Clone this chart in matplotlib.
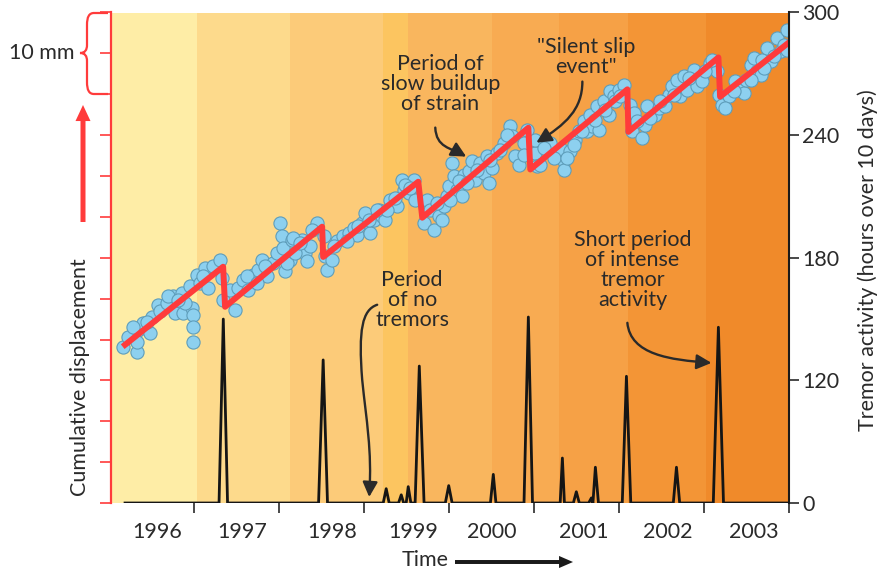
import numpy as np
import matplotlib.pyplot as plt
import matplotlib.transforms as mtransforms
from matplotlib.patches import FancyArrowPatch, PathPatch
from matplotlib.path import Path

plt.rcParams['font.family'] = ['Lato', 'DejaVu Sans']

# GPS cumulative displacement (year, mm)
gps_t = [1996.175, 1996.234, 1996.332, 1996.351, 1996.332, 1996.41, 1996.489, 1996.509, 1996.586, 1996.606,
         1996.685, 1996.763, 1996.783, 1996.862, 1996.881, 1996.959, 1996.979, 1996.998, 1996.998, 1996.998,
         1996.9, 1997.038, 1997.077, 1997.136, 1997.175, 1997.234, 1997.312, 1997.332, 1997.351, 1997.43,
         1997.489, 1997.528, 1997.586, 1997.645, 1997.704, 1997.763, 1997.803, 1997.862, 1997.939, 1997.979,
         1998.018, 1998.038, 1998.057, 1998.077, 1998.136, 1998.156, 1998.273, 1998.312, 1998.332, 1998.371,
         1998.45, 1998.528, 1998.548, 1998.567,
         1996.292, 1996.45, 1996.704, 1996.822, 1997.116, 1997.626, 1997.744, 1997.842, 1998.097, 1998.195,
         1998.175, 1998.254, 1998.391, 1998.626, 1998.685, 1998.763, 1998.822, 1998.881, 1998.92, 1998.979,
         1999.018, 1999.077, 1999.116, 1999.175, 1999.214, 1999.254, 1999.312, 1999.391, 1999.45, 1999.469,
         1999.528, 1999.586, 1999.606, 1999.704, 1999.744, 1999.783, 1999.822, 1999.881, 1999.939, 1999.979,
         1999.998, 2000.038, 2000.057, 2000.097, 2000.156, 2000.175, 2000.234, 2000.273, 2000.312, 2000.371,
         2000.41, 2000.45, 2000.469, 2000.509, 2000.567, 2000.645, 2000.724, 2000.744, 2000.783, 2000.822,
         2000.881, 2000.92, 2001.018, 2001.038,
         1998.646, 1998.803, 1998.939, 1999.057, 1999.156, 1999.273, 1999.371, 1999.489, 1999.548,
         1999.861, 1999.92, 2000.018, 2000.116, 2000.214, 2000.332, 2000.489, 2000.606, 2000.685,
         2000.881, 2001.018, 2001.077, 2001.195, 2001.273, 2001.332, 2001.351, 2001.351, 2001.43, 2001.489,
         2001.528, 2001.586, 2001.626, 2001.665, 2001.685, 2001.744, 2001.763, 2001.822, 2001.881, 2001.901,
         2001.939, 2001.998, 2002.057, 2002.136, 2002.175, 2002.156, 2002.273, 2002.312, 2002.332, 2002.43,
         2002.469, 2002.548, 2002.586, 2002.626, 2002.685, 2002.724, 2002.763, 2002.803, 2002.881, 2002.92,
         2002.979, 2003.077, 2003.156, 2003.175, 2003.214, 2003.292, 2003.371, 2003.41, 2003.469, 2003.489,
         2003.548, 2003.586, 2003.626, 2003.665, 2003.685, 2003.744, 2003.783, 2003.862, 2003.901, 2003.939,
         2003.979, 2003.979,
         2001.116, 2001.234, 2001.391, 2001.469, 2001.567, 2001.724, 2001.842, 2001.959, 2002.018,
         2002.214, 2002.371, 2002.489, 2002.645, 2002.822, 2003.018, 2003.097,
         2003.253, 2003.351, 2003.548, 2003.704, 2003.822]
gps_mm = [19.14, 20.36, 18.53, 21.18, 19.75, 22.0, 20.78, 22.81, 24.25, 23.43,
          24.45, 25.26, 23.23, 25.68, 23.23, 26.49, 23.84, 23.02, 21.59, 19.75,
          24.45, 27.92, 26.9, 28.74, 26.29, 28.94, 29.76, 27.51, 24.86, 26.08,
          23.63, 26.29, 27.31, 26.08, 27.92, 28.53, 29.76, 27.71, 29.35, 30.58,
          34.25, 32.61, 31.19, 28.32, 29.76, 32.2, 32.2, 30.58, 29.55, 31.38,
          34.25, 32.61, 30.16, 28.53,
          21.59, 22.2, 25.26, 24.86, 27.71, 27.71, 26.9, 28.94, 29.35, 30.58,
          32.41, 31.8, 33.43, 29.76, 32.0, 32.61, 33.02, 33.64, 32.82, 34.25,
          35.47, 33.02, 34.65, 35.88, 35.06, 34.65, 37.1, 36.28, 39.55, 38.33,
          37.92, 39.55, 37.1, 34.25, 37.1, 35.88, 33.43, 35.06, 36.28, 37.51,
          38.73, 41.6, 39.96, 38.33, 37.51, 40.16, 40.57, 41.79, 39.55, 41.6,
          40.37, 42.41, 39.15, 40.98, 42.82, 44.05, 46.08, 44.86, 42.41, 41.39,
          44.05, 45.67, 42.82, 41.18,
          31.39, 32.0, 33.83, 34.65, 35.88, 35.88, 37.31, 38.94, 38.53,
          36.7, 34.65, 37.1, 39.34, 39.15, 40.78, 42.0, 43.23, 45.06,
          42.61, 44.45, 41.39, 44.05, 42.61, 43.23, 41.79, 40.78, 43.02, 44.45,
          45.47, 46.69, 45.47, 47.51, 46.08, 48.53, 45.67, 49.14, 47.51, 50.36,
          49.75, 50.57, 51.18, 48.74, 47.72, 45.47, 44.66, 46.29, 48.53, 47.51,
          48.33, 48.53, 49.96, 50.98, 51.8, 49.75, 52.2, 50.57, 53.02, 50.98,
          51.59, 53.84, 52.81, 49.96, 48.74, 49.75, 51.59, 50.57, 50.17, 51.8,
          53.63, 54.45, 52.81, 52.41, 54.25, 55.68, 54.04, 56.9, 55.27, 56.08,
          57.92, 55.47,
          43.43, 42.21, 42.21, 43.84, 45.47, 46.9, 48.12, 49.14, 49.75,
          46.69, 47.1, 49.14, 49.96, 52.0, 52.81, 54.25,
          48.33, 50.37, 51.8, 53.23, 54.65]

# sawtooth model line (year, mm)
fit_t = [1996.195, 1997.348, 1997.371, 1998.512, 1998.524, 1999.642, 1999.689, 2000.936, 2000.959,
         2002.10, 2002.112, 2003.17, 2003.19, 2003.995]
fit_mm = [19.35, 28.9, 24.0, 33.8, 30.1, 39.3, 34.9, 45.9, 40.8, 50.6, 45.4, 54.5, 49.7, 56.3]

# tremor activity (year, hours over 10 days)
tremor_t = [1996.195, 1997.30, 1997.35, 1997.40, 1998.47, 1998.524, 1998.575, 1999.23, 1999.265, 1999.30,
            1999.41, 1999.442, 1999.47, 1999.50, 1999.524, 1999.555, 1999.605, 1999.654, 1999.71, 1999.96,
            2000.0, 2000.04, 2000.49, 2000.524, 2000.555, 2000.885, 2000.936, 2000.985, 2001.31, 2001.336,
            2001.36, 2001.465, 2001.50, 2001.535, 2001.645, 2001.677, 2001.695, 2001.724, 2001.76, 2002.04,
            2002.089, 2002.14, 2002.64, 2002.677, 2002.715, 2003.11, 2003.17, 2003.23, 2003.995]
tremor_h = [0, 0, 150, 0, 0, 130, 0, 0, 14, 0,
            0, 8, 0, 0, 16, 0, 0, 127, 0, 0,
            17, 0, 0, 28, 0, 0, 151, 0, 0, 44,
            0, 0, 11, 0, 0, 5, 0, 35, 0, 0,
            122, 0, 0, 35, 0, 0, 146, 0, 0]

year_ticks = [1997, 1998, 1999, 2000, 2001, 2002, 2003, 2004]
year_labels = ['1996', '1997', '1998', '1999', '2000', '2001', '2002', '2003']
year_label_pos = [1996.57, 1997.57, 1998.63, 1999.58, 2000.51, 2001.59, 2002.58, 2003.59]
tremor_ticks = [0, 120, 180, 240, 300]

band_edges = [1996.0, 1997.04, 1998.136, 1999.23, 1999.524, 2000.51, 2001.30, 2002.11, 2003.02, 2004.0]
band_colors = ['#FEEDA6', '#FDDA8C', '#FCCB79', '#FCC560', '#F9B65E', '#F8AB52', '#F6A146', '#F39536', '#F08A2A']

RED = '#FF3B3B'
INK = '#2a2a2a'
FS = 15.5


def fwd(v):
    v = np.asarray(v, dtype=float)
    return np.where(v <= 120, v / 2, v - 60)


def inv(v):
    v = np.asarray(v, dtype=float)
    return np.where(v <= 60, v * 2, v + 60)


fig = plt.figure(figsize=(8.82, 5.71), dpi=100)
# pixel transform for decorations outside the axes (origin top-left)
px = mtransforms.Affine2D().scale(1 / 882, -1 / 571).translate(0, 1) + fig.transFigure

ax = fig.add_axes([111 / 882, 1 - 503 / 571, 678 / 882, 490.5 / 571])
for i in range(len(band_colors)):
    ax.axvspan(band_edges[i], band_edges[i + 1], color=band_colors[i], lw=0, zorder=0)

ax.scatter(gps_t, gps_mm, s=90, c='#8DD0EF', edgecolors='#5E9DBA', linewidths=0.8, zorder=2)
ax.plot(fit_t, fit_mm, color=RED, lw=4.3, zorder=3)

ax.set_xlim(1996.03, 2004.0)
ax.set_ylim(0, 60)
ax.set_yticks(np.arange(0, 61, 5))
ax.tick_params(axis='y', colors=RED, length=8, width=1.2, labelleft=False)
ax.spines['left'].set_color(RED)
ax.spines['left'].set_linewidth(1.6)
for s in ['top', 'right', 'bottom']:
    ax.spines[s].set_visible(False)

ax.set_xticks(year_ticks, labels=[''] * len(year_ticks))
ax.set_xticks(year_label_pos, labels=year_labels, minor=True)
ax.tick_params(axis='x', which='major', length=7.5, width=1.2, color=INK)
ax.tick_params(axis='x', which='minor', length=0, pad=14, labelsize=FS, labelcolor=INK)

ax2 = ax.twinx()
ax2.set_yscale('function', functions=(fwd, inv))
ax2.set_ylim(0, 300)
ax2.set_yticks(tremor_ticks, labels=[str(v) for v in tremor_ticks])
ax2.plot(tremor_t, tremor_h, color='#151515', lw=2.0, zorder=3)
ax2.tick_params(axis='y', length=7.5, width=1.2, pad=2, labelsize=FS, color=INK, labelcolor=INK)
for s in ['top', 'left', 'bottom']:
    ax2.spines[s].set_visible(False)
ax2.spines['right'].set_linewidth(1.5)
ax2.spines['right'].set_color('#1a1a1a')

# annotations inside the plot
txt = dict(ha='center', va='center', fontsize=FS, color=INK, linespacing=1.0, zorder=5)
ax.text(1999.9, 51.2, 'Period of\nslow buildup\nof strain', **txt)
ax.text(2001.618, 54.6, '"Silent slip\nevent"', **txt)
ax.text(1999.571, 24.86, 'Period\nof no\ntremors', **txt)
ax.text(2002.16, 28.5, 'Short period\nof intense\ntremor\nactivity', **txt)

C3 = Path.CURVE4
arrow_paths = [
    Path([(1999.842, 45.92), (1999.854, 43.47), (2000.018, 43.47), (2000.206, 42.37)], [Path.MOVETO, C3, C3, C3]),
    Path([(2001.571, 51.55), (2001.571, 48.12), (2001.371, 46.29), (2001.03, 44.08)], [Path.MOVETO, C3, C3, C3]),
    Path([(1999.159, 24.25), (1998.983, 23.63), (1998.936, 21.18), (1998.983, 15.06),
          (1999.03, 10.16), (1999.1, 6.49), (1999.065, 0.73)], [Path.MOVETO, C3, C3, C3, C3, C3, C3]),
    Path([(2002.10, 22.04), (2002.136, 18.12), (2002.606, 17.51), (2003.089, 17.14)], [Path.MOVETO, C3, C3, C3]),
]
for p in arrow_paths:
    ax.add_patch(FancyArrowPatch(path=p, arrowstyle='-|>,head_length=0.6,head_width=0.3',
                                 mutation_scale=15, lw=1.7, color=INK, zorder=5))

# left side decorations: brace, 10 mm, red arrow
brace = Path([(108, 13), (94, 13), (89, 13), (87, 17), (87, 25), (87, 45), (87, 50), (85, 53), (80, 53),
              (85, 53), (87, 56), (87, 61), (87, 82), (87, 90), (89, 94), (94, 94), (108, 94)],
             [Path.MOVETO, Path.LINETO, C3, C3, C3, Path.LINETO, C3, C3, C3, C3, C3, C3,
              Path.LINETO, C3, C3, C3, Path.LINETO])
fig.add_artist(PathPatch(brace, transform=px, fill=False, edgecolor=RED, lw=1.6))
fig.text(42 / 882, 1 - 53 / 571, '10 mm', ha='center', va='center', fontsize=FS, color=INK)
fig.add_artist(FancyArrowPatch((83, 222), (83, 105), transform=px,
                               arrowstyle='simple,head_length=0.77,head_width=0.72,tail_width=0.24',
                               mutation_scale=15, color=RED, lw=0, shrinkA=0, shrinkB=0))
fig.text(80 / 882, 1 - 377 / 571, 'Cumulative displacement', rotation=90, ha='center', va='center',
         fontsize=FS, color=INK)

# right label and bottom "Time" arrow
fig.text(868 / 882, 1 - 260 / 571, 'Tremor activity (hours over 10 days)', rotation=90, ha='center',
         va='center', fontsize=FS, color=INK)
fig.text(425 / 882, 1 - 560 / 571, 'Time', ha='center', va='center', fontsize=FS, color=INK)
fig.add_artist(FancyArrowPatch((455, 562), (573, 562), transform=px,
                               arrowstyle='simple,head_length=0.67,head_width=0.58,tail_width=0.19',
                               mutation_scale=15, color='#1a1a1a', lw=0, shrinkA=0, shrinkB=0))

fig.savefig('out.png', dpi=100)
